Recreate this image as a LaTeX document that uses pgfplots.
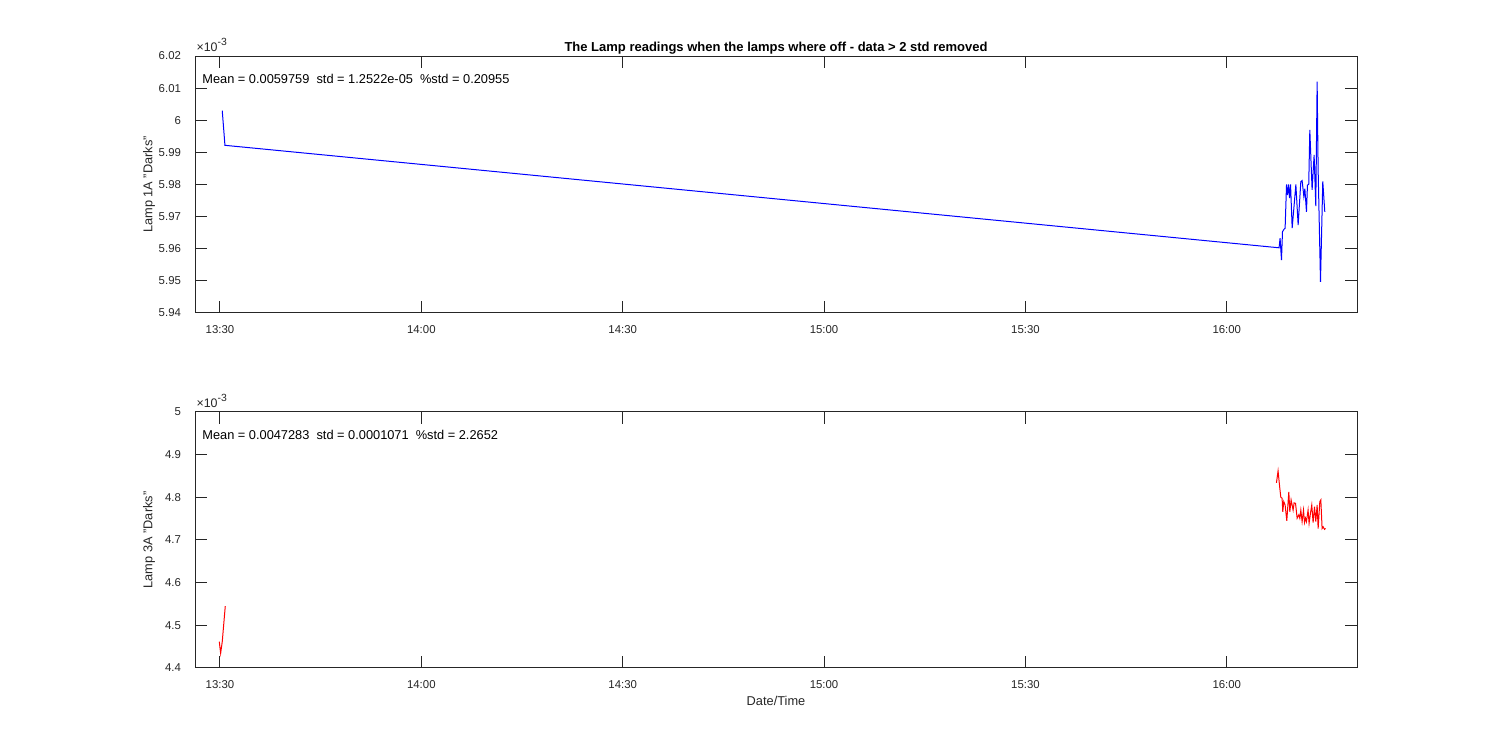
\documentclass[border=0pt]{standalone}
\usepackage{fontspec}
\setmainfont{Liberation Sans}
\usepackage{pgfplots}
\pgfplotsset{compat=1.18}

\definecolor{axgray}{rgb}{0.15,0.15,0.15}

\pgfplotsset{
  lampaxis/.style={
    scale only axis,
    width=581pt,
    xmin=26.28, xmax=199.4,
    xtick={30,60,90,120,150,180},
    xticklabels={13:30,14:00,14:30,15:00,15:30,16:00},
    tick align=inside,
    major tick length=5.8pt,
    axis line style={axgray, line width=0.5pt},
    tick style={axgray, line width=0.5pt},
    every tick label/.append style={font=\fontsize{5.7}{6.7}\selectfont, text=axgray},
    /pgf/number format/assume math mode=true,
    xticklabel style={yshift=-2.5pt},
    yticklabel style={xshift=-3.5pt},
    ylabel style={at={(axis description cs:-0.034,0.5)}, anchor=south, inner sep=0pt,
      rotate=0, font=\fontsize{6.4}{7.5}\selectfont, text=axgray},
    xlabel style={font=\fontsize{6.4}{7.5}\selectfont, text=axgray},
    clip mode=individual,
  }
}

\newcommand{\expnote}{×10\raisebox{2.6pt}{\fontsize{5.2}{6}\selectfont -3}}

\begin{document}
\begin{tikzpicture}
\useasboundingbox (0,0) rectangle (750pt,375pt);

% top: lamp 1A
\begin{axis}[lampaxis,
  at={(97.5pt,218.5pt)}, anchor=south west,
  height=128.5pt,
  ymin=5.94, ymax=6.02,
  ytick={5.94,5.95,5.96,5.97,5.98,5.99,6.00,6.01,6.02},
  yticklabels={5.94,5.95,5.96,5.97,5.98,5.99,6,6.01,6.02},
  ylabel={Lamp 1A "Darks"},
  title={\bfseries The Lamp readings when the lamps where off - data > 2 std removed},
  title style={at={(axis description cs:0.5,1)}, anchor=south, inner sep=0pt, yshift=-5.5pt,
    font=\fontsize{6.5}{7.5}\selectfont},
]
\addplot[blue, line width=0.5pt] coordinates {
(30.34,6.0030) (30.74,5.9922) (187.79,5.9603) (187.94,5.9633) (188.15,5.9565)
(188.30,5.9653) (188.54,5.9661) (188.69,5.9664) (188.90,5.9800) (189.05,5.9767)
(189.20,5.9800) (189.35,5.9758) (189.50,5.9800) (189.74,5.9664) (190.29,5.9800)
(190.63,5.9674) (191.03,5.9809) (191.22,5.9812) (191.48,5.9763) (191.63,5.9787)
(191.87,5.9715) (192.02,5.9798) (192.21,5.9801) (192.37,5.9970) (192.71,5.9783)
(193.01,5.9892) (193.26,5.9733) (193.46,6.0120) (193.61,5.9845) (193.96,5.9497)
(194.30,5.9810) (194.60,5.9715)
};
\node[anchor=south west, inner sep=0pt, text=axgray, font=\fontsize{6.2}{7}\selectfont]
  at (rel axis cs:0.001,1) [yshift=2.2pt] {\expnote};
\node[anchor=west, inner sep=0pt, font=\fontsize{6.4}{7.5}\selectfont]
  at (rel axis cs:0.006,0.91) {Mean = 0.0059759\ \ std = 1.2522e-05\ \ \%std = 0.20955};
\end{axis}

% bottom: lamp 3A
\begin{axis}[lampaxis,
  at={(97.5pt,41pt)}, anchor=south west,
  height=128pt,
  ymin=4.4, ymax=5.0,
  ytick={4.4,4.5,4.6,4.7,4.8,4.9,5.0},
  yticklabels={4.4,4.5,4.6,4.7,4.8,4.9,5},
  ylabel={Lamp 3A "Darks"},
  xlabel={Date/Time},
  xlabel style={at={(axis description cs:0.5,-0.11)}, anchor=north, inner sep=0pt},
]
\addplot[red, line width=0.5pt] coordinates {
(29.90,4.4617) (30.10,4.4345) (30.34,4.4617) (30.79,4.5450)
};
\addplot[red, line width=0.5pt] coordinates {
(187.40,4.834) (187.64,4.862) (187.90,4.821) (188.05,4.800) (188.24,4.798)
(188.34,4.766) (188.49,4.790) (188.69,4.782) (188.94,4.745) (189.24,4.813)
(189.39,4.766) (189.58,4.794) (189.73,4.782) (189.88,4.770) (190.03,4.787)
(190.24,4.786) (190.48,4.751) (190.73,4.759) (190.88,4.751) (191.03,4.770)
(191.22,4.743) (191.43,4.770) (191.58,4.741) (191.73,4.751) (191.87,4.743)
(192.11,4.770) (192.26,4.739) (192.47,4.763) (192.66,4.782) (192.86,4.741)
(193.07,4.778) (193.26,4.743) (193.46,4.782) (193.61,4.727) (193.86,4.790)
(194.01,4.794) (194.20,4.727) (194.35,4.731) (194.56,4.725) (194.71,4.727)
};
\node[anchor=south west, inner sep=0pt, text=axgray, font=\fontsize{6.2}{7}\selectfont]
  at (rel axis cs:0.001,1) [yshift=2.2pt] {\expnote};
\node[anchor=west, inner sep=0pt, font=\fontsize{6.4}{7.5}\selectfont]
  at (rel axis cs:0.006,0.91) {Mean = 0.0047283\ \ std = 0.0001071\ \ \%std = 2.2652};
\end{axis}
\end{tikzpicture}
\end{document}
